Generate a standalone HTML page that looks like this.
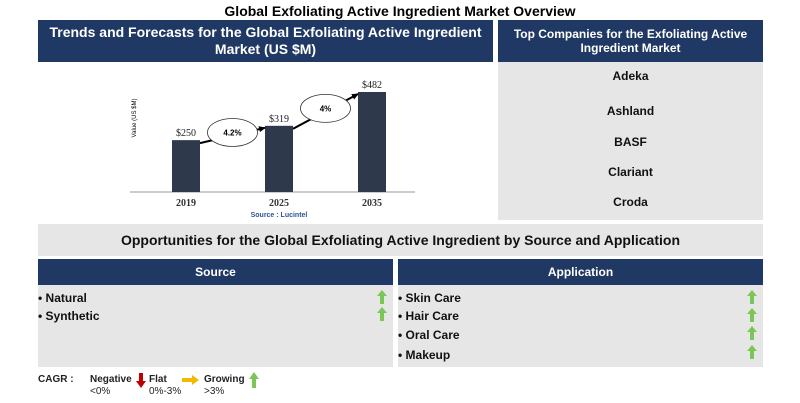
<!DOCTYPE html>
<html><head><meta charset="utf-8"><style>
body{margin:0;width:800px;height:403px;background:#fff;font-family:"Liberation Sans",sans-serif;position:relative;overflow:hidden}
.a{position:absolute}
.hd{background:#1f3864;color:#fff;font-weight:bold;text-align:center;display:flex;align-items:center;justify-content:center}
.gr{background:#e6e6e6}
.it{position:absolute;font-size:12px;font-weight:bold;color:#111}
.up{position:absolute;width:4px;height:8px;background:#7cc657}
.up::before{content:"";position:absolute;left:-3px;top:-6px;border-left:5px solid transparent;border-right:5px solid transparent;border-bottom:6px solid #7cc657}
</style></head><body>
<div class="a" style="left:0;width:800px;top:3px;text-align:center;font-weight:bold;font-size:14px">Global Exfoliating Active Ingredient Market Overview</div>
<div class="a hd" style="left:38px;top:20px;width:455px;height:42px;font-size:14px;line-height:17px">Trends and Forecasts for the Global Exfoliating Active Ingredient<br>Market (US $M)</div>
<div class="a hd" style="left:498px;top:20px;width:265px;height:42px;font-size:12px;line-height:14px">Top Companies for the Exfoliating Active<br>Ingredient Market</div>
<div class="a gr" style="left:498px;top:62px;width:265px;height:158px"></div>
<div class="it" style="left:498px;width:265px;text-align:center;top:69px">Adeka</div>
<div class="it" style="left:498px;width:265px;text-align:center;top:104px">Ashland</div>
<div class="it" style="left:498px;width:265px;text-align:center;top:135px">BASF</div>
<div class="it" style="left:498px;width:265px;text-align:center;top:165px">Clariant</div>
<div class="it" style="left:498px;width:265px;text-align:center;top:195px">Croda</div>
<svg class="a" style="left:0;top:0" width="800" height="403" id="ch"></svg>
<div class="a gr" style="left:38px;top:224px;width:725px;height:32px;text-align:center;line-height:32px;font-weight:bold;font-size:14px;color:#111">Opportunities for the Global Exfoliating Active Ingredient by Source and Application</div>
<div class="a hd" style="left:38px;top:259px;width:355px;height:26px;font-size:12px">Source</div>
<div class="a gr" style="left:38px;top:285px;width:355px;height:82px"></div>
<div class="a hd" style="left:398px;top:259px;width:365px;height:26px;font-size:12px">Application</div>
<div class="a gr" style="left:398px;top:285px;width:365px;height:82px"></div>
<div class="it" style="left:38px;top:291px">• Natural</div>
<div class="up" style="left:380px;top:296px"></div>
<div class="it" style="left:38px;top:309px">• Synthetic</div>
<div class="up" style="left:380px;top:313px"></div>
<div class="it" style="left:398px;top:291px">• Skin Care</div>
<div class="up" style="left:750px;top:296px"></div>
<div class="it" style="left:398px;top:309px">• Hair Care</div>
<div class="up" style="left:750px;top:314px"></div>
<div class="it" style="left:398px;top:328px">• Oral Care</div>
<div class="up" style="left:750px;top:332px"></div>
<div class="it" style="left:398px;top:348px">• Makeup</div>
<div class="up" style="left:750px;top:351px"></div>
<div class="a" style="left:38px;top:374px;font-size:10px;font-weight:bold;color:#222">CAGR :</div>
<div class="a" style="left:90px;top:374px;font-size:10px;font-weight:bold;color:#222;line-height:12px">Negative<br><span style="font-weight:normal">&lt;0%</span></div>
<svg class="a" style="left:136px;top:373px" width="10" height="16"><rect x="3" y="0" width="4" height="9" fill="#c00000"/><path d="M0,8L10,8L5,15z" fill="#c00000"/></svg>
<div class="a" style="left:149px;top:374px;font-size:10px;font-weight:bold;color:#222;line-height:12px">Flat<br><span style="font-weight:normal">0%-3%</span></div>
<svg class="a" style="left:182px;top:375px" width="18" height="10"><rect x="0" y="3" width="11" height="4" fill="#f5b800"/><path d="M10,0L17,5L10,10z" fill="#f5b800"/></svg>
<div class="a" style="left:204px;top:374px;font-size:10px;font-weight:bold;color:#222;line-height:12px">Growing<br><span style="font-weight:normal">&gt;3%</span></div>
<svg class="a" style="left:249px;top:372px" width="10" height="16"><path d="M0,7L10,7L5,0z" fill="#7cc657"/><rect x="3" y="6" width="4" height="10" fill="#7cc657"/></svg>
<script>
const years=["2019","2025","2035"];
const values=[250,319,482];
const cagrLabels=["4.2%","4%"];
const svg=document.getElementById('ch');const NS='http://www.w3.org/2000/svg';
const base=192,k=100/482,x0=172,step=93,bw=28;
const y=v=>base-v*k, xc=i=>x0+i*step;
function mk(t,a,txt){const e=document.createElementNS(NS,t);for(const n in a)e.setAttribute(n,a[n]);if(txt!=null)e.textContent=txt;svg.appendChild(e);return e;}
let ax=mk('line',{x1:130,x2:415,y1:base,y2:base,stroke:'#999','stroke-width':1});

let yt=mk('text',{x:0,y:0,'font-size':6,'font-family':'Liberation Sans',transform:'translate(136,118) rotate(-90)','text-anchor':'middle'},'Value (US $M)');

let defs=mk('defs',{});defs.innerHTML='<marker id="ah" markerUnits="userSpaceOnUse" markerWidth="7" markerHeight="6" refX="6" refY="3" orient="auto"><path d="M0,0L7,3L0,6z" fill="#000"/></marker>';
values.forEach((v,i)=>{
 let r=mk('rect',{x:xc(i),y:y(v),width:bw,height:v*k,fill:'#2e3a4c'});
 
 let l=mk('text',{x:xc(i)+bw/2,y:y(v)-4,'text-anchor':'middle','font-size':10,'font-family':'Liberation Serif','fill':'#222'},'$'+v);
 
 let t=mk('text',{x:xc(i)+bw/2,y:base+14,'text-anchor':'middle','font-size':10,'font-weight':'bold','font-family':'Liberation Serif','fill':'#333'},years[i]);
 
});
for(let i=0;i<values.length-1;i++){
 const x1=xc(i)+bw,y1=y(values[i])+3,x2=xc(i+1),y2=y(values[i+1])+2;
 let a=mk('line',{x1:x1,y1:y1,x2:x2,y2:y2,stroke:'#000','stroke-width':2,'marker-end':'url(#ah)'});
 
 const mx=(x1+x2)/2,my=(y1+y2)/2-3;
 let e=mk('ellipse',{cx:mx,cy:my,rx:25,ry:14,fill:'#fff',stroke:'#333','stroke-width':0.8});
 
 let t=mk('text',{x:mx,y:my+3,'text-anchor':'middle','font-size':8,'font-weight':'bold','font-family':'Liberation Sans'},cagrLabels[i]);
 
}
let s=mk('text',{x:xc(1)+bw/2,y:base+25,'text-anchor':'middle','font-size':7,'font-weight':'bold','fill':'#2e5597','font-family':'Liberation Sans'},'Source : Lucintel');

</script>
</body></html>
